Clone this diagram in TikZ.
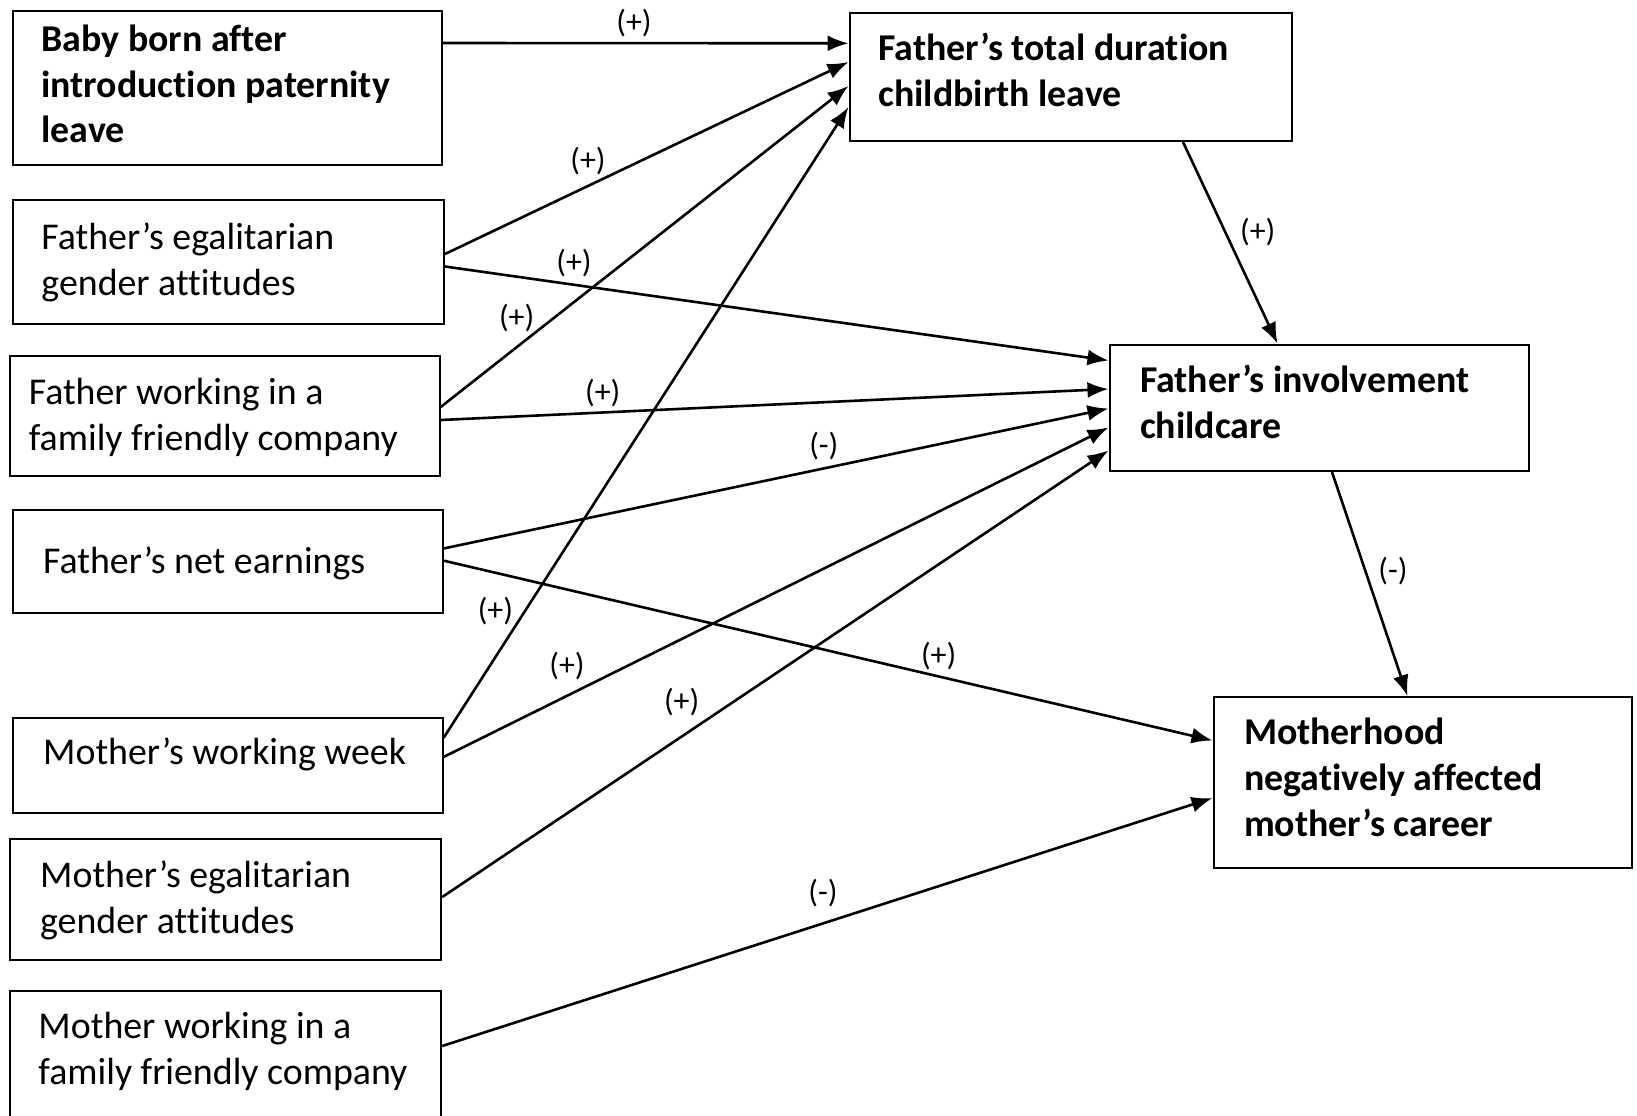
\documentclass[tikz,border=0pt]{standalone}
\usepackage{fontspec}
\setmainfont{Carlito}[Ligatures=NoCommon]
\usetikzlibrary{arrows.meta,calc}
\begin{document}
\begin{tikzpicture}[x=1bp,y=-1bp,
  box/.style={draw, line width=2bp, inner sep=0pt, anchor=north west},
  txt/.style={anchor=west, align=left, inner sep=0pt, font=\fontsize{38}{46}\selectfont},
  btxt/.style={anchor=west, align=left, inner sep=0pt, font=\fontsize{38}{46}\selectfont\bfseries},
  conn/.style={line width=2.6bp, -{Latex[length=21bp,width=16bp]}},
  lab/.style={inner sep=0pt, font=\fontsize{32}{38}\selectfont}]
\clip (0,0) rectangle (1637,1115);
\fill[white] (0,0) rectangle (1637,1115);
% left boxes
\node[box, minimum width=429.5bp, minimum height=154.5bp] (b1) at (11.5,9.5) {};
\node[box, minimum width=431.5bp, minimum height=124bp] (b2) at (11.5,198.5) {};
\node[box, minimum width=429.5bp, minimum height=120bp] (b3) at (9.2,355) {};
\node[box, minimum width=430bp, minimum height=103bp] (b4) at (11.5,509) {};
\node[box, minimum width=430bp, minimum height=94.5bp] (b5) at (11.5,717) {};
\node[box, minimum width=431bp, minimum height=121bp] (b6) at (9.2,838) {};
\node[box, minimum width=431bp, minimum height=160bp] (b7) at (9.2,990) {};
% right boxes
\node[box, minimum width=442bp, minimum height=128.5bp] (t) at (848.5,11.5) {};
\node[box, minimum width=419.5bp, minimum height=126.5bp] (i) at (1108.5,343.5) {};
\node[box, minimum width=418.5bp, minimum height=171bp] (m) at (1212.5,696) {};
% texts
\node[btxt] (b1t) at (41.3,88) {\strut Baby born after\\\strut introduction paternity\\\strut leave};
\node[txt] (b2t) at (41.3,263) {\strut Father’s egalitarian\\\strut gender attitudes};
\node[txt] (b3t) at (28.7,418) {\strut Father working in a\\\strut family friendly company};
\node[txt] (b4t) at (43,564) {\strut Father’s net earnings};
\node[txt] (b5t) at (43,755) {\strut Mother’s working week};
\node[txt] (b6t) at (40,901) {\strut Mother’s egalitarian\\\strut gender attitudes};
\node[txt] (b7t) at (38.3,1052) {\strut Mother working in a\\\strut family friendly company};
\node[btxt] (tt) at (878.2,74) {\strut Father’s total duration\\\strut childbirth leave};
\node[btxt] (it) at (1139.8,406.5) {\strut Father’s involvement\\\strut childcare};
\node[btxt] (mt) at (1243.8,781) {\strut Motherhood\\\strut negatively affected\\\strut mother’s career};
% connectors
\draw[conn] ($(b1.north east)+(0,33.5)$) -- ($(t.north west)+(0,31.8)$);
\draw[conn] ($(b2.north east)+(0,55.5)$) -- ($(t.north west)+(0,50.5)$);
\draw[conn] ($(b3.north east)+(0,52)$) -- ($(t.north west)+(0,74.5)$);
\draw[conn] ($(b5.north east)+(0,21)$) -- ($(t.north west)+(0,95.5)$);
\draw[conn] ($(b2.north east)+(0,68)$) -- ($(i.north west)+(0,17)$);
\draw[conn] ($(b3.north east)+(0,65)$) -- ($(i.north west)+(0,45.5)$);
\draw[conn] ($(b4.north east)+(0,39.5)$) -- ($(i.north west)+(0,65)$);
\draw[conn] ($(b5.north east)+(0,40)$) -- ($(i.north west)+(0,84)$);
\draw[conn] ($(b6.north east)+(0,59)$) -- ($(i.north west)+(0,107)$);
\draw[conn] ($(b4.north east)+(0,51.6)$) -- ($(m.north west)+(0,44.5)$);
\draw[conn] ($(b7.north east)+(0,56)$) -- ($(m.north west)+(0,102)$);
\draw[conn] ($(t.south west)+(334.5,0)$) -- ($(i.north west)+(169,0)$);
\draw[conn] ($(i.south west)+(223.5,0)$) -- ($(m.north west)+(195,0)$);
% labels
\node[lab] (l1) at (634,23) {(+)};
\node[lab] (l2) at (588,161) {(+)};
\node[lab] (l3) at (516.6,318) {(+)};
\node[lab] (l4) at (574,263) {(+)};
\node[lab] (l5) at (602.8,393) {(+)};
\node[lab] (l6) at (823.8,446) {(-)};
\node[lab] (l7) at (938.6,656) {(+)};
\node[lab] (l8) at (495.4,611) {(+)};
\node[lab] (l9) at (567,666) {(+)};
\node[lab] (l10) at (681.6,701.8) {(+)};
\node[lab] (l11) at (823,893) {(-)};
\node[lab] (l12) at (1257.8,232) {(+)};
\node[lab] (l13) at (1393,571) {(-)};
\end{tikzpicture}
\end{document}
